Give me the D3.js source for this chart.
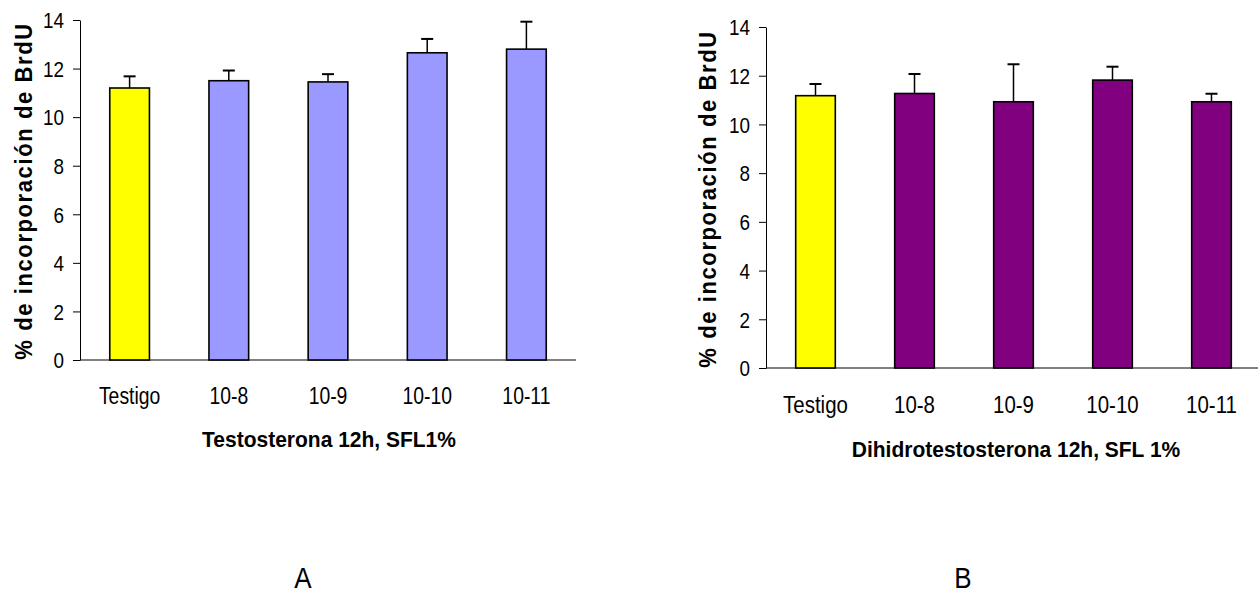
<!DOCTYPE html>
<html>
<head>
<meta charset="utf-8">
<script src="https://cdn.jsdelivr.net/npm/d3@7"></script>
<style>
  html, body { margin: 0; padding: 0; background: #fff; }
  svg { display: block; }
  text { font-family: Arial, "Liberation Sans", sans-serif; fill: #000; }
</style>
</head>
<body>
<svg id="chart" width="1258" height="594"></svg>
<script>
const categories = ["Testigo", "10-8", "10-9", "10-10", "10-11"];
const yTicks = [0, 2, 4, 6, 8, 10, 12, 14];

const valuesA = [11.2, 11.5, 11.45, 12.65, 12.8];
const errorsA = [0.48, 0.42, 0.32, 0.57, 1.13];
const colorsA = ["#FFFF00", "#9999FF", "#9999FF", "#9999FF", "#9999FF"];
const xTitleA = "Testosterona 12h, SFL1%";

const valuesB = [11.18, 11.27, 10.93, 11.82, 10.93];
const errorsB = [0.48, 0.8, 1.54, 0.55, 0.33];
const colorsB = ["#FFFF00", "#800080", "#800080", "#800080", "#800080"];
const xTitleB = "Dihidrotestosterona 12h, SFL 1%";

const yTitle = "% de incorporación de BrdU";
const panelLabels = ["A", "B"];

const svg = d3.select("#chart");

function label(g, x, y, txt, o) {
  g.append("text")
    .attr("transform", `translate(${x},${y})` + (o.rot ? ` rotate(${o.rot})` : "") + ` scale(${o.sx || 1},${o.sy || 1})`)
    .attr("text-anchor", o.anchor || "middle")
    .attr("font-size", o.size)
    .attr("font-weight", o.weight || "normal")
    .attr("letter-spacing", o.ls || null)
    .text(txt);
}

function panel(cfg) {
  const g = svg.append("g");
  const y = d3.scaleLinear().domain([0, 14]).range([cfg.y0, cfg.y14]);
  const x = d3.scaleBand().domain(categories).range([cfg.x0, cfg.x1]).paddingInner(0.6).paddingOuter(0.3);

  // x axis line
  g.append("line")
    .attr("x1", cfg.x0).attr("x2", cfg.xEnd)
    .attr("y1", y(0)).attr("y2", y(0))
    .attr("stroke", "#808080").attr("stroke-width", 2);

  // y axis
  const ya = g.append("g").attr("transform", `translate(${cfg.x0},0)`)
    .call(d3.axisLeft(y).tickValues(yTicks).tickSize(7).tickSizeOuter(0).tickFormat(d3.format("d")));
  ya.select(".domain").attr("stroke", "#000").attr("stroke-width", 1);
  ya.selectAll(".tick line").attr("stroke", "#000").attr("stroke-width", 1);
  ya.selectAll(".tick text")
    .attr("x", null).attr("dy", null)
    .attr("font-size", 21)
    .attr("font-family", "Arial, 'Liberation Sans', sans-serif")
    .attr("fill", "#000")
    .attr("transform", "translate(-16,7.8) scale(0.9,1.02)");

  // bars
  g.selectAll("rect.bar").data(categories).enter().append("rect")
    .attr("class", "bar")
    .attr("x", d => x(d))
    .attr("width", x.bandwidth())
    .attr("y", (d, i) => y(cfg.values[i]))
    .attr("height", (d, i) => y(0) - y(cfg.values[i]))
    .attr("fill", (d, i) => cfg.colors[i])
    .attr("stroke", "#000").attr("stroke-width", 1.6);

  // error bars (upward only)
  categories.forEach((c, i) => {
    const cx = x(c) + x.bandwidth() / 2;
    const top = y(cfg.values[i] + cfg.errors[i]);
    g.append("line").attr("x1", cx).attr("x2", cx)
      .attr("y1", y(cfg.values[i])).attr("y2", top)
      .attr("stroke", "#000").attr("stroke-width", 1.5);
    g.append("line").attr("x1", cx - 6).attr("x2", cx + 6)
      .attr("y1", top).attr("y2", top)
      .attr("stroke", "#000").attr("stroke-width", 2);
  });

  // category labels
  categories.forEach(c => {
    label(g, x(c) + x.bandwidth() / 2, cfg.catY, c, { size: 22, sx: cfg.catSx, sy: 1.1 });
  });

  // axis titles
  label(g, cfg.yTitleX, cfg.yTitleY, yTitle, { size: 22, weight: "bold", rot: -90, sx: 1.0, sy: 1.05, ls: 1.6 });
  label(g, cfg.xTitleX, cfg.xTitleY, cfg.xTitle, { size: 21, weight: "bold", sx: 1, sy: 1.05 });
  label(g, cfg.panelX, 588, cfg.panel, { size: 26, sx: 1, sy: 1.12 });
}

panel({
  x0: 80, x1: 576, xEnd: 576, y0: 360, y14: 20,
  values: valuesA, errors: errorsA, colors: colorsA,
  catY: 403.5, catSx: 0.88,
  yTitleX: 31.5, yTitleY: 191,
  xTitle: xTitleA, xTitleX: 329, xTitleY: 446.5,
  panel: panelLabels[0], panelX: 303
});

panel({
  x0: 766, x1: 1261, xEnd: 1258, y0: 368, y14: 27,
  values: valuesB, errors: errorsB, colors: colorsB,
  catY: 412.5, catSx: 0.93,
  yTitleX: 716, yTitleY: 199,
  xTitle: xTitleB, xTitleX: 1016, xTitleY: 457,
  panel: panelLabels[1], panelX: 963
});
</script>
</body>
</html>
